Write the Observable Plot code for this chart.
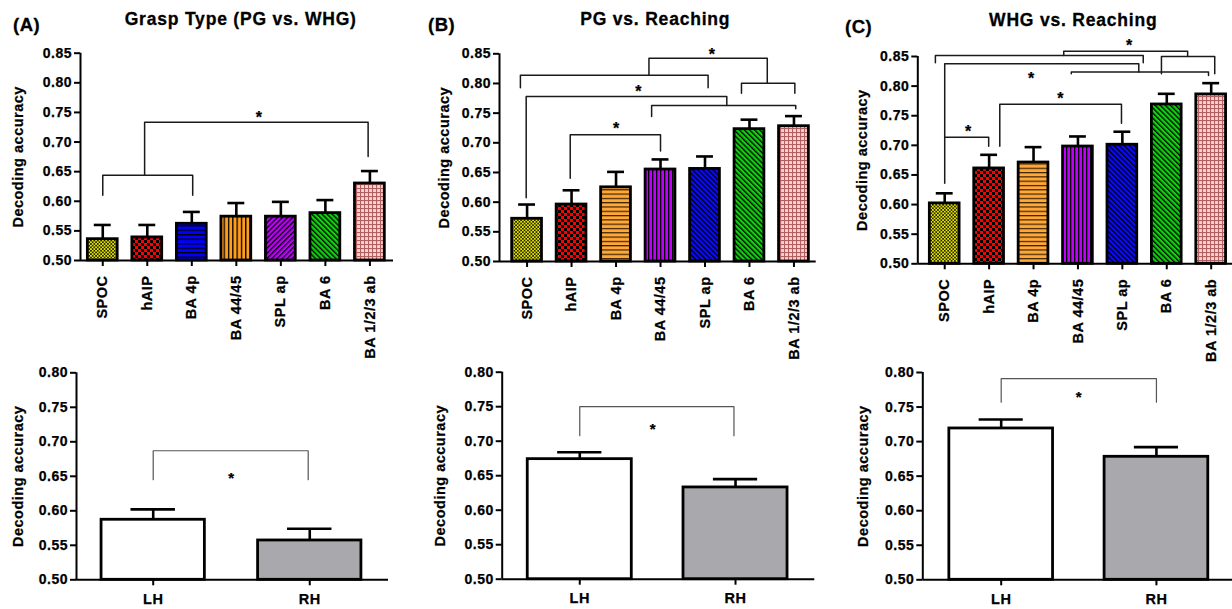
<!DOCTYPE html>
<html><head><meta charset="utf-8">
<script src="https://cdn.jsdelivr.net/npm/d3@7"></script>
<script src="https://cdn.jsdelivr.net/npm/@observablehq/plot@0.6"></script>
<style>
body{margin:0;background:#fff;}
#fig{position:relative;width:1232px;height:609px;overflow:hidden;font-family:"Liberation Sans",Arial,Helvetica,sans-serif;font-weight:700;color:#000;background:#fff;}
.pl{position:absolute;}
.pl text{stroke:#000;stroke-width:0.25px;}
.lbl{position:absolute;font-size:18.5px;line-height:1;white-space:nowrap;letter-spacing:0.5px;-webkit-text-stroke:0.3px #000;}
.ttl{position:absolute;font-size:17.5px;line-height:1;white-space:nowrap;transform:translateX(-50%);letter-spacing:0.8px;-webkit-text-stroke:0.3px #000;}
</style></head><body>
<svg width="0" height="0" style="position:absolute">
<defs>
 <pattern id="pYellow" patternUnits="userSpaceOnUse" width="3.4" height="3.4"><rect width="3.4" height="3.4" fill="#e6e600"/><rect width="1.7" height="1.7" fill="#262600"/><rect x="1.7" y="1.7" width="1.7" height="1.7" fill="#262600"/></pattern>
 <pattern id="pRed" patternUnits="userSpaceOnUse" width="6" height="6"><rect width="6" height="6" fill="#ff0000"/><rect width="3" height="3" fill="#000"/><rect x="3" y="3" width="3" height="3" fill="#000"/></pattern>
 <pattern id="pBlueH" patternUnits="userSpaceOnUse" width="4.5" height="4.5"><rect width="4.5" height="4.5" fill="#0000ff"/><rect width="4.5" height="1.4" fill="#000"/></pattern>
 <pattern id="pOrangeV" patternUnits="userSpaceOnUse" width="4.3" height="4.3"><rect width="4.3" height="4.3" fill="#ff9d1c"/><rect width="1.3" height="4.3" fill="#000"/></pattern>
 <pattern id="pOrangeH" patternUnits="userSpaceOnUse" width="4.3" height="4.3"><rect width="4.3" height="4.3" fill="#ffa83a"/><rect width="4.3" height="1.2" fill="#3a2000"/></pattern>
 <pattern id="pPurpleV" patternUnits="userSpaceOnUse" width="4" height="4"><rect width="4" height="4" fill="#c000ff"/><rect width="1.3" height="4" fill="#000"/></pattern>
 <pattern id="pPurpleD" patternUnits="userSpaceOnUse" width="3.6" height="3.6" patternTransform="rotate(45)"><rect width="3.6" height="3.6" fill="#c000ff"/><rect width="1.3" height="3.6" fill="#000"/></pattern>
 <pattern id="pBlueD" patternUnits="userSpaceOnUse" width="3.6" height="3.6" patternTransform="rotate(-45)"><rect width="3.6" height="3.6" fill="#0a0aff"/><rect width="1.3" height="3.6" fill="#000"/></pattern>
 <pattern id="pGreenD" patternUnits="userSpaceOnUse" width="3.6" height="3.6" patternTransform="rotate(-45)"><rect width="3.6" height="3.6" fill="#10d010"/><rect width="1.3" height="3.6" fill="#000"/></pattern>
 <pattern id="pPink" patternUnits="userSpaceOnUse" width="4" height="4"><rect width="4" height="4" fill="#b06060"/><rect x="1.1" y="1.1" width="2.9" height="2.9" fill="#ffd0d0"/></pattern>
</defs>
</svg>
<div id="fig">
 <div class="lbl" style="left:13px;top:16px">(A)</div>
 <div class="lbl" style="left:428px;top:15.5px">(B)</div>
 <div class="lbl" style="left:845px;top:18px">(C)</div>
 <div class="ttl" style="left:240.7px;top:11px">Grasp Type (PG vs. WHG)</div>
 <div class="ttl" style="left:655.3px;top:10.5px">PG vs. Reaching</div>
 <div class="ttl" style="left:1073.3px;top:11.5px">WHG vs. Reaching</div>
</div>
<script>
// ---------- data ----------
const regions = ["SPOC", "hAIP", "BA 4p", "BA 44/45", "SPL ap", "BA 6", "BA 1/2/3 ab"];
const yTicksTop = [0.50, 0.55, 0.60, 0.65, 0.70, 0.75, 0.80, 0.85];
const yTicksBottom = [0.50, 0.55, 0.60, 0.65, 0.70, 0.75, 0.80];
const yLabel = "Decoding accuracy";

// (A) Grasp type (PG vs. WHG)
const meanA = [0.536, 0.539, 0.562, 0.574, 0.574, 0.580, 0.630];
const semA  = [0.024, 0.021, 0.020, 0.023, 0.025, 0.022, 0.021];
// (B) PG vs. Reaching
const meanB = [0.572, 0.596, 0.625, 0.655, 0.656, 0.723, 0.728];
const semB  = [0.024, 0.024, 0.026, 0.017, 0.021, 0.016, 0.017];
// (C) WHG vs. Reaching
const meanC = [0.602, 0.661, 0.671, 0.698, 0.701, 0.769, 0.786];
const semC  = [0.017, 0.023, 0.026, 0.017, 0.022, 0.018, 0.019];

// hemisphere comparison
const hands = ["LH", "RH"];
const handMeanA = [0.587, 0.557];
const handSemA  = [0.015, 0.017];
const handMeanB = [0.674, 0.633];
const handSemB  = [0.010, 0.012];
const handMeanC = [0.719, 0.678];
const handSemC  = [0.013, 0.014];

// significance brackets, in (region index, accuracy) units
const bracketsA = [
  {x1: 0, x2: 2.02, y: 0.644, y1: 0.610, y2: 0.610},
  {x1: 0.94, x2: 5.96, y: 0.7335, y1: 0.644, y2: 0.6756}
];
const starsA = [{x: 3.51, y: 0.7477}];
const bracketsB = [
  {x1: 0.97, x2: 3.0, y: 0.7135, y1: 0.6404, y2: 0.686},
  {x1: 2.8, x2: 6.04, y: 0.763, y1: 0.7444, y2: 0.7573},
  {x1: -0.02, x2: 4.49, y: 0.778, y1: 0.6073, y2: 0.763},
  {x1: -0.15, x2: 4.07, y: 0.814, y1: 0.7927, y2: 0.7927},
  {x1: 4.82, x2: 6.02, y: 0.8005, y1: 0.7837, y2: 0.7837},
  {x1: 2.74, x2: 5.4, y: 0.8427, y1: 0.814, y2: 0.8005}
];
const starsB = [{x: 2.01, y: 0.7303}, {x: 2.51, y: 0.792}, {x: 4.16, y: 0.8556}];
const bracketsC = [
  {x1: 0, x2: 0.99, y: 0.7137, y1: 0.636, y2: 0.6985},
  {x1: 1.24, x2: 3.98, y: 0.7694, y1: 0.6985, y2: 0.7373},
  {x1: 0, x2: 4.37, y: 0.8376, y1: 0.7137, y2: 0.8238},
  {x1: 2.85, x2: 5.94, y: 0.8238, y1: 0.8207, y2: 0.8179},
  {x1: -0.21, x2: 4.47, y: 0.8516, y1: 0.8393, y2: 0.8393},
  {x1: 4.88, x2: 6.08, y: 0.85, y1: 0.8207, y2: 0.8207},
  {x1: 2.68, x2: 5.47, y: 0.8589, y1: 0.8516, y2: 0.85}
];
const starsC = [{x: 0.53, y: 0.7296}, {x: 2.61, y: 0.785}, {x: 1.95, y: 0.8196}, {x: 4.16, y: 0.874}];
const handBracketA = [{x1: 0, x2: 0.99, y: 0.687, y1: 0.645, y2: 0.645}];
const handStarA = [{x: 0.5, y: 0.653}];
const handBracketB = [{x1: 0, x2: 0.99, y: 0.750, y1: 0.708, y2: 0.708}];
const handStarB = [{x: 0.47, y: 0.7228}];
const handBracketC = [{x1: 0, x2: 1.0, y: 0.791, y1: 0.757, y2: 0.757}];
const handStarC = [{x: 0.5, y: 0.7696}];

// ---------- styles ----------
const fillsA = ["url(#pYellow)", "url(#pRed)", "url(#pBlueH)", "url(#pOrangeV)", "url(#pPurpleD)", "url(#pGreenD)", "url(#pPink)"];
const fillsBC = ["url(#pYellow)", "url(#pRed)", "url(#pOrangeH)", "url(#pPurpleV)", "url(#pBlueD)", "url(#pGreenD)", "url(#pPink)"];
const fillsHand = ["#ffffff", "#a9a9ad"];

function panel(cfg) {
  const {cats, mean, sem, fills, brackets, stars, box, yTicks, barHalf, capHalf, top} = cfg;
  const yDomain = [yTicks[0], yTicks[yTicks.length - 1]];
  const data = cats.map((c, i) => ({i, c, m: mean[i], t: mean[i] + sem[i], f: fills[i]}));
  const pts = brackets.flatMap((b, k) => [
    {k, x: b.x1, y: b.y1}, {k, x: b.x1, y: b.y}, {k, x: b.x2, y: b.y}, {k, x: b.x2, y: b.y2}
  ]);
  const svg = Plot.plot({
    width: box.w, height: box.h,
    marginLeft: box.ml, marginRight: box.mr, marginTop: box.mt, marginBottom: box.mb,
    x: {domain: box.xd, axis: null},
    y: {domain: yDomain, axis: null},
    color: {type: "identity"},
    style: {fontFamily: '"Liberation Sans", Arial, Helvetica, sans-serif', fontWeight: "bold", fontSize: "14px", letterSpacing: "0.5px", background: "none", overflow: "visible", color: "#000"},
    marks: [
      Plot.rect(data, {x1: d => d.i - barHalf, x2: d => d.i + barHalf, y1: () => yDomain[0], y2: "m", fill: "f", stroke: "#000", strokeWidth: 2.8}),
      Plot.ruleX(data, {x: "i", y1: "m", y2: "t", stroke: "#000", strokeWidth: 2.6}),
      Plot.ruleY(data, {y: "t", x1: d => d.i - capHalf, x2: d => d.i + capHalf, stroke: "#000", strokeWidth: 2.6}),
      Plot.ruleX([box.xd[0]], {y1: yDomain[0], y2: yDomain[1], stroke: "#000", strokeWidth: 2}),
      Plot.ruleY([yDomain[0]], {stroke: "#000", strokeWidth: 2}),
      Plot.axisY({ticks: yTicks, tickFormat: d3.format(".2f"), tickSize: 6, tickPadding: 2.5, strokeWidth: 2, fontSize: 14, label: null}),
      top
        ? Plot.axisX({ticks: d3.range(cats.length), tickFormat: i => cats[i], tickSize: 6, tickPadding: 9, tickRotate: -90, strokeWidth: 2, fontSize: 14.5, label: null})
        : Plot.axisX({ticks: d3.range(cats.length), tickFormat: i => cats[i], tickSize: 6, tickPadding: 8, strokeWidth: 2, fontSize: 14.5, label: null}),
      Plot.line(pts, {x: "x", y: "y", z: "k", stroke: top ? "#1a1a1a" : "#555", strokeWidth: top ? 1.5 : 1.2}),
      Plot.text(stars, {x: "x", y: "y", text: () => "*", fontSize: top ? 16 : 15, dy: 4}),
      Plot.text([yLabel], {frameAnchor: "left", textAnchor: "middle", lineAnchor: "middle", rotate: -90, dx: -box.yl, fontSize: 14.5, text: d => d})
    ]
  });
  svg.classList.add("pl");
  svg.style.left = box.L + "px";
  svg.style.top = box.T + "px";
  document.getElementById("fig").appendChild(svg);
}

panel({cats: regions, mean: meanA, sem: semA, fills: fillsA, brackets: bracketsA, stars: starsA, yTicks: yTicksTop, barHalf: 0.335, capHalf: 0.19, top: true,
  box: {L: 0, T: 0, w: 410, h: 350, ml: 80, mr: 17, mt: 52.7, mb: 90, xd: [-0.5, 6.53], yl: 62.5}});
panel({cats: regions, mean: meanB, sem: semB, fills: fillsBC, brackets: bracketsB, stars: starsB, yTicks: yTicksTop, barHalf: 0.335, capHalf: 0.19, top: true,
  box: {L: 420, T: 0, w: 410, h: 350, ml: 79, mr: 14.3, mt: 53.3, mb: 89, xd: [-0.62, 6.5], yl: 55}});
panel({cats: regions, mean: meanC, sem: semC, fills: fillsBC, brackets: bracketsC, stars: starsC, yTicks: yTicksTop, barHalf: 0.335, capHalf: 0.19, top: true,
  box: {L: 830, T: 0, w: 402, h: 350, ml: 87.3, mr: 0, mt: 56, mb: 86.7, xd: [-0.606, 6.48], yl: 55.6}});
panel({cats: hands, mean: handMeanA, sem: handSemA, fills: fillsHand, brackets: handBracketA, stars: handStarA, yTicks: yTicksBottom, barHalf: 0.33, capHalf: 0.142, top: false,
  box: {L: 0, T: 300, w: 400, h: 309, ml: 76, mr: 12, mt: 72.3, mb: 29.7, xd: [-0.49, 1.503], yl: 58.5}});
panel({cats: hands, mean: handMeanB, sem: handSemB, fills: fillsHand, brackets: handBracketB, stars: handStarB, yTicks: yTicksBottom, barHalf: 0.334, capHalf: 0.142, top: false,
  box: {L: 420, T: 300, w: 400, h: 309, ml: 81.7, mr: 5.7, mt: 71.7, mb: 30.3, xd: [-0.498, 1.509], yl: 62}});
panel({cats: hands, mean: handMeanC, sem: handSemC, fills: fillsHand, brackets: handBracketC, stars: handStarC, yTicks: yTicksBottom, barHalf: 0.334, capHalf: 0.142, top: false,
  box: {L: 830, T: 300, w: 402, h: 309, ml: 92.3, mr: 0, mt: 72, mb: 29.7, xd: [-0.505, 1.49], yl: 59.6}});
</script>
</body></html>
